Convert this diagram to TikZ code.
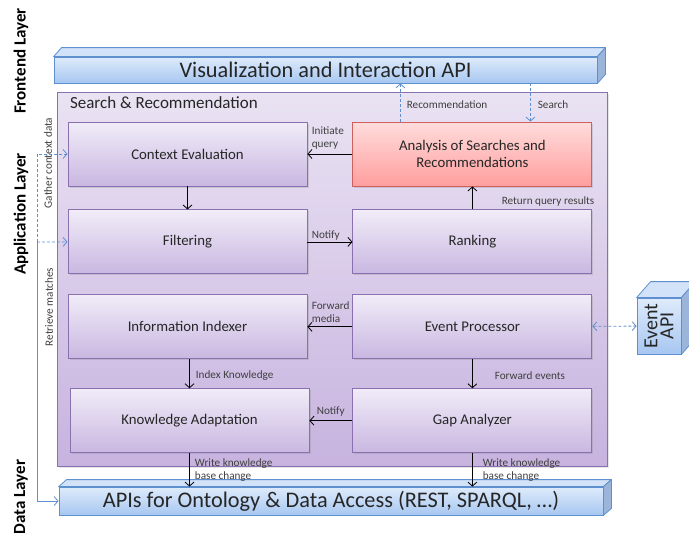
\documentclass[tikz,border=0pt]{standalone}
\usepackage{fontspec}
\setmainfont{Carlito}
\usetikzlibrary{arrows.meta, positioning, shadows}
\definecolor{srPurple}{HTML}{8A70AE}
\definecolor{srTop}{HTML}{EAE3F3}
\definecolor{srBottom}{HTML}{C7B3DF}
\definecolor{boxTop}{HTML}{F1ECF8}
\definecolor{boxBottom}{HTML}{C9B7E1}
\definecolor{anaRed}{HTML}{D0605C}
\definecolor{anaTop}{HTML}{FFDCDC}
\definecolor{anaBottom}{HTML}{FF9E9E}
\definecolor{apiBlue}{HTML}{5E90CF}
\definecolor{apiTop}{HTML}{DEEBFB}
\definecolor{apiBottom}{HTML}{A7C7F1}
\definecolor{apiFace}{HTML}{D2E2F8}
\definecolor{apiSide}{HTML}{9AB4DA}
\definecolor{txtGray}{HTML}{262626}
\definecolor{lblGray}{HTML}{3F3F3F}

\begin{document}
\begin{tikzpicture}[
    x=1pt, y=-1pt,
    box/.style={rectangle, draw=srPurple, line width=0.9pt, top color=boxTop, bottom color=boxBottom, minimum width=239pt, minimum height=64pt, align=center, text=txtGray, font=\fontsize{14.8}{17}\selectfont, drop shadow={shadow xshift=1.5pt, shadow yshift=-1.5pt, opacity=0.25}},
    redbox/.style={box, draw=anaRed, top color=anaTop, bottom color=anaBottom},
    container/.style={rectangle, draw=srPurple, line width=0.9pt, top color=srTop, bottom color=srBottom, minimum width=550pt, minimum height=374pt, drop shadow={shadow xshift=1.5pt, shadow yshift=-1.5pt, opacity=0.2}},
    barfront/.style={rectangle, draw=apiBlue, line width=0.8pt, top color=apiTop, bottom color=apiBottom, text=txtGray, inner sep=0pt, font=\fontsize{22.3}{24}\selectfont},
    barface/.style={draw=apiBlue, line width=0.8pt, fill=apiFace, line join=round},
    barside/.style={draw=apiBlue, line width=0.8pt, fill=apiSide, line join=round},
    layer/.style={rotate=90, font=\fontsize{17}{19}\selectfont\bfseries, text=black},
    lbl/.style={font=\fontsize{11.2}{13}\selectfont, text=lblGray, align=left, inner sep=1pt},
    arr/.style={-{Straight Barb[length=4pt, width=9pt]}, line width=0.8pt},
    bdash/.style={-{Straight Barb[length=4pt, width=9pt]}, draw=apiBlue, line width=0.8pt, dash pattern=on 3pt off 2pt},
    bline/.style={-{Straight Barb[length=4pt, width=9pt]}, draw=apiBlue, line width=0.8pt},
]
    \useasboundingbox (0,0) rectangle (689,533);

    % layers
    \node[layer] (lfront) at (21,61) {Frontend Layer};
    \node[layer] (lapp) at (21,214) {Application Layer};
    \node[layer] (ldata) at (21,497) {Data Layer};

    % frontend API
    \node[barfront, minimum width=543pt, minimum height=26pt] (vis) at (325.5,70) {Visualization and Interaction API};
    \filldraw[barface] (vis.north west) -- ++(8,-9) -- ([xshift=8pt,yshift=9pt]vis.north east) -- (vis.north east) -- cycle;
    \filldraw[barside] (vis.north east) -- ++(8,-9) -- ([xshift=8pt,yshift=9pt]vis.south east) -- (vis.south east) -- cycle;

    % search & recommendation
    \node[container] (sr) at (332,279) {};
    \node[anchor=north west, text=txtGray, font=\fontsize{17}{19}\selectfont] (srlabel) at ([xshift=10pt,yshift=-2pt]sr.north west) {Search \& Recommendation};

    \node[box] (ctx) at (187.5,154) {Context Evaluation};
    \node[box, below=23pt of ctx] (filt) {Filtering};
    \node[box, below=20pt of filt] (idx) {Information Indexer};
    \node[box, below=29pt of idx, xshift=2pt] (ada) {Knowledge Adaptation};
    \node[redbox, right=45pt of ctx] (ana) {Analysis of Searches and\\Recommendations};
    \node[box, right=45pt of filt] (rank) {Ranking};
    \node[box, right=45pt of idx] (evt) {Event Processor};
    \node[box, below=29pt of evt] (gap) {Gap Analyzer};

    % data layer API
    \node[barfront, minimum width=544pt, minimum height=28pt] (api) at (331,501) {APIs for Ontology \& Data Access (REST, SPARQL, \dots)};
    \filldraw[barface] (api.north west) -- ++(8,-7) -- ([xshift=8pt,yshift=7pt]api.north east) -- (api.north east) -- cycle;
    \filldraw[barside] (api.north east) -- ++(8,-7) -- ([xshift=8pt,yshift=7pt]api.south east) -- (api.south east) -- cycle;

    % event API
    \node[barfront, minimum width=44pt, minimum height=56pt, font=\fontsize{20}{21}\selectfont] (eapi) at (659,326) {\rotatebox{90}{\shortstack{Event\\API}}};
    \filldraw[barface] (eapi.north west) -- ++(14,-16) -- ([xshift=14pt,yshift=16pt]eapi.north east) -- (eapi.north east) -- cycle;
    \filldraw[barside] (eapi.north east) -- ++(14,-16) -- ([xshift=14pt,yshift=16pt]eapi.south east) -- (eapi.south east) -- cycle;

    % connectors
    \draw[arr] (ctx) -- (filt);
    \draw[arr] (ana) -- (ctx) node[lbl, pos=1, anchor=south west, xshift=3pt, yshift=3pt] {Initiate\\query};
    \draw[arr] (filt) -- (rank) node[lbl, pos=0, anchor=south west, xshift=3pt] {Notify};
    \draw[arr] (rank) -- (ana) node[lbl, pos=0.35, anchor=west, xshift=28pt] {Return query results};
    \draw[arr] (evt) -- (idx) node[lbl, pos=1, anchor=south west, xshift=3pt, yshift=3pt] {Forward\\media};
    \draw[arr] ([xshift=2pt]idx.south) -- ([xshift=2pt]idx.south |- ada.north) node[lbl, pos=0.55, anchor=west, xshift=5pt] {Index Knowledge};
    \draw[arr] (evt) -- (gap) node[lbl, pos=0.55, anchor=west, xshift=21pt] {Forward events};
    \draw[arr] (gap) -- (ada) node[lbl, pos=1, anchor=south west, xshift=6pt, yshift=3pt] {Notify};
    \draw[arr] (ada.south) -- (ada.south |- api.north) node[lbl, pos=0.5, anchor=west, xshift=4pt] {Write knowledge\\base change};
    \draw[arr] (gap.south) -- (gap.south |- api.north) node[lbl, pos=0.5, anchor=west, xshift=9pt] {Write knowledge\\base change};

    \draw[bdash] ([xshift=-72pt]ana.north) -- ([xshift=-72pt]ana.north |- vis.south) node[lbl, pos=0.45, anchor=west, xshift=5pt] {Recommendation};
    \draw[bdash] ([xshift=58pt]ana.north |- vis.south) -- ([xshift=58pt]ana.north) node[lbl, pos=0.55, anchor=west, xshift=6pt] {Search};
    \draw[bdash, {Straight Barb[length=4pt, width=9pt]}-{Straight Barb[length=4pt, width=9pt]}] (evt) -- (eapi);

    \coordinate (gth) at (37,242);
    \draw[bdash] (gth) -- (filt.west);
    \draw[bdash] (gth) |- (ctx.west);
    \draw[bline] (gth) |- (api.west);
    \node[lbl, rotate=90] (gthlbl) at (48,163) {Gather context data};
    \node[lbl, rotate=90] (retlbl) at (49,307) {Retrieve matches};
\end{tikzpicture}
\end{document}
